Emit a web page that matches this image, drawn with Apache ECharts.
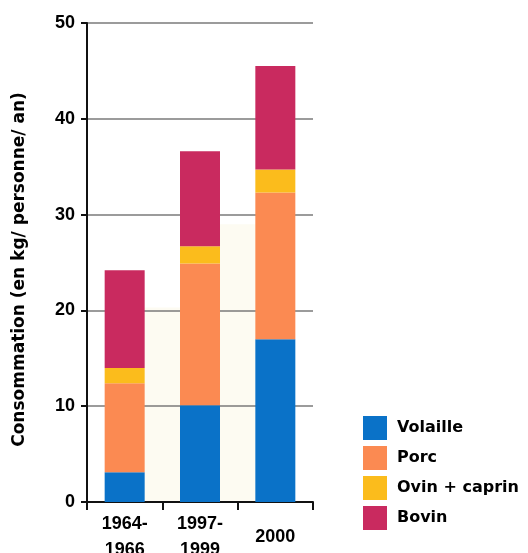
<!DOCTYPE html>
<html>
<head>
<meta charset="utf-8">
<script src="https://cdn.jsdelivr.net/npm/echarts@6/dist/echarts.min.js"></script>
<style>html,body{margin:0;padding:0;background:#fff;}#c{width:528px;height:553px;}</style>
</head>
<body>
<div id="c"></div>
<script>
var categories = ['1964-\n1966', '1997-\n1999', '2000'];
var seriesNames = ['Volaille', 'Porc', 'Ovin + caprin', 'Bovin'];
var volaille = [3.1, 10.1, 17.0];
var porc = [9.3, 14.8, 15.3];
var ovin = [1.6, 1.8, 2.4];
var bovin = [10.2, 9.9, 10.8];
var colors = ['#0a72c8', '#fb8a52', '#fbbc1c', '#c92a5f'];
var yTicks = [0, 10, 20, 30, 40, 50];
// faint background shading between the bars (category boundaries 1 and 2)
var shadeBoundaries = [1, 2];
var shadeValues = [20.3, 29.0];

var FONT = 'DejaVu Sans';
var AFONT = 'Liberation Sans';
var chart = echarts.init(document.getElementById('c'), null, {renderer: 'canvas'});
var values = [volaille, porc, ovin, bovin];
var series = [{
  name: 'shade', type: 'bar', xAxisIndex: 1, barWidth: 36, silent: true, zlevel: -1,
  data: shadeBoundaries.map(function (b, i) { return [b, shadeValues[i]]; }),
  itemStyle: {color: '#fdfbf2'}
}].concat(seriesNames.map(function (n, i) {
  return {name: n, type: 'bar', stack: 'total', barWidth: 40, data: values[i],
    itemStyle: {color: colors[i]}};
}));
chart.setOption({
  animation: false,
  color: colors,
  grid: {left: 87, right: 215, top: 23, bottom: 51, containLabel: false, outerBoundsMode: 'none'},
  legend: {
    orient: 'vertical', left: 358, top: 411,
    itemWidth: 24, itemHeight: 24, itemGap: 6,
    icon: 'rect',
    data: seriesNames,
    textStyle: {fontFamily: FONT, fontWeight: 'bold', fontSize: 16, color: '#000', padding: [0, 0, 0, 5]}
  },
  xAxis: [{
    type: 'category', data: categories,
    axisLine: {show: true, lineStyle: {color: '#111', width: 2}},
    axisTick: {show: true, length: 8, lineStyle: {color: '#111', width: 2}},
    axisLabel: {fontFamily: AFONT, fontWeight: 'bold', fontSize: 18, color: '#000',
      verticalAlign: 'middle', margin: 35, lineHeight: 26}
  }, {
    type: 'value', min: 0, max: categories.length, show: false
  }],
  yAxis: {
    type: 'value', min: yTicks[0], max: yTicks[yTicks.length - 1], interval: 10,
    name: 'Consommation (en kg/ personne/ an)',
    nameLocation: 'middle', nameGap: 59,
    nameTextStyle: {fontFamily: FONT, fontWeight: 'bold', fontSize: 17, color: '#000', padding: [0, 14, 0, 0]},
    axisLine: {show: true, lineStyle: {color: '#111', width: 2}},
    axisTick: {show: true, length: 6, lineStyle: {color: '#111', width: 2}},
    axisLabel: {fontFamily: AFONT, fontWeight: 'bold', fontSize: 18, color: '#000', margin: 12},
    splitLine: {show: true, lineStyle: {color: '#7a7a7a', width: 1.5}}
  },
  series: series
});
</script>
</body>
</html>
